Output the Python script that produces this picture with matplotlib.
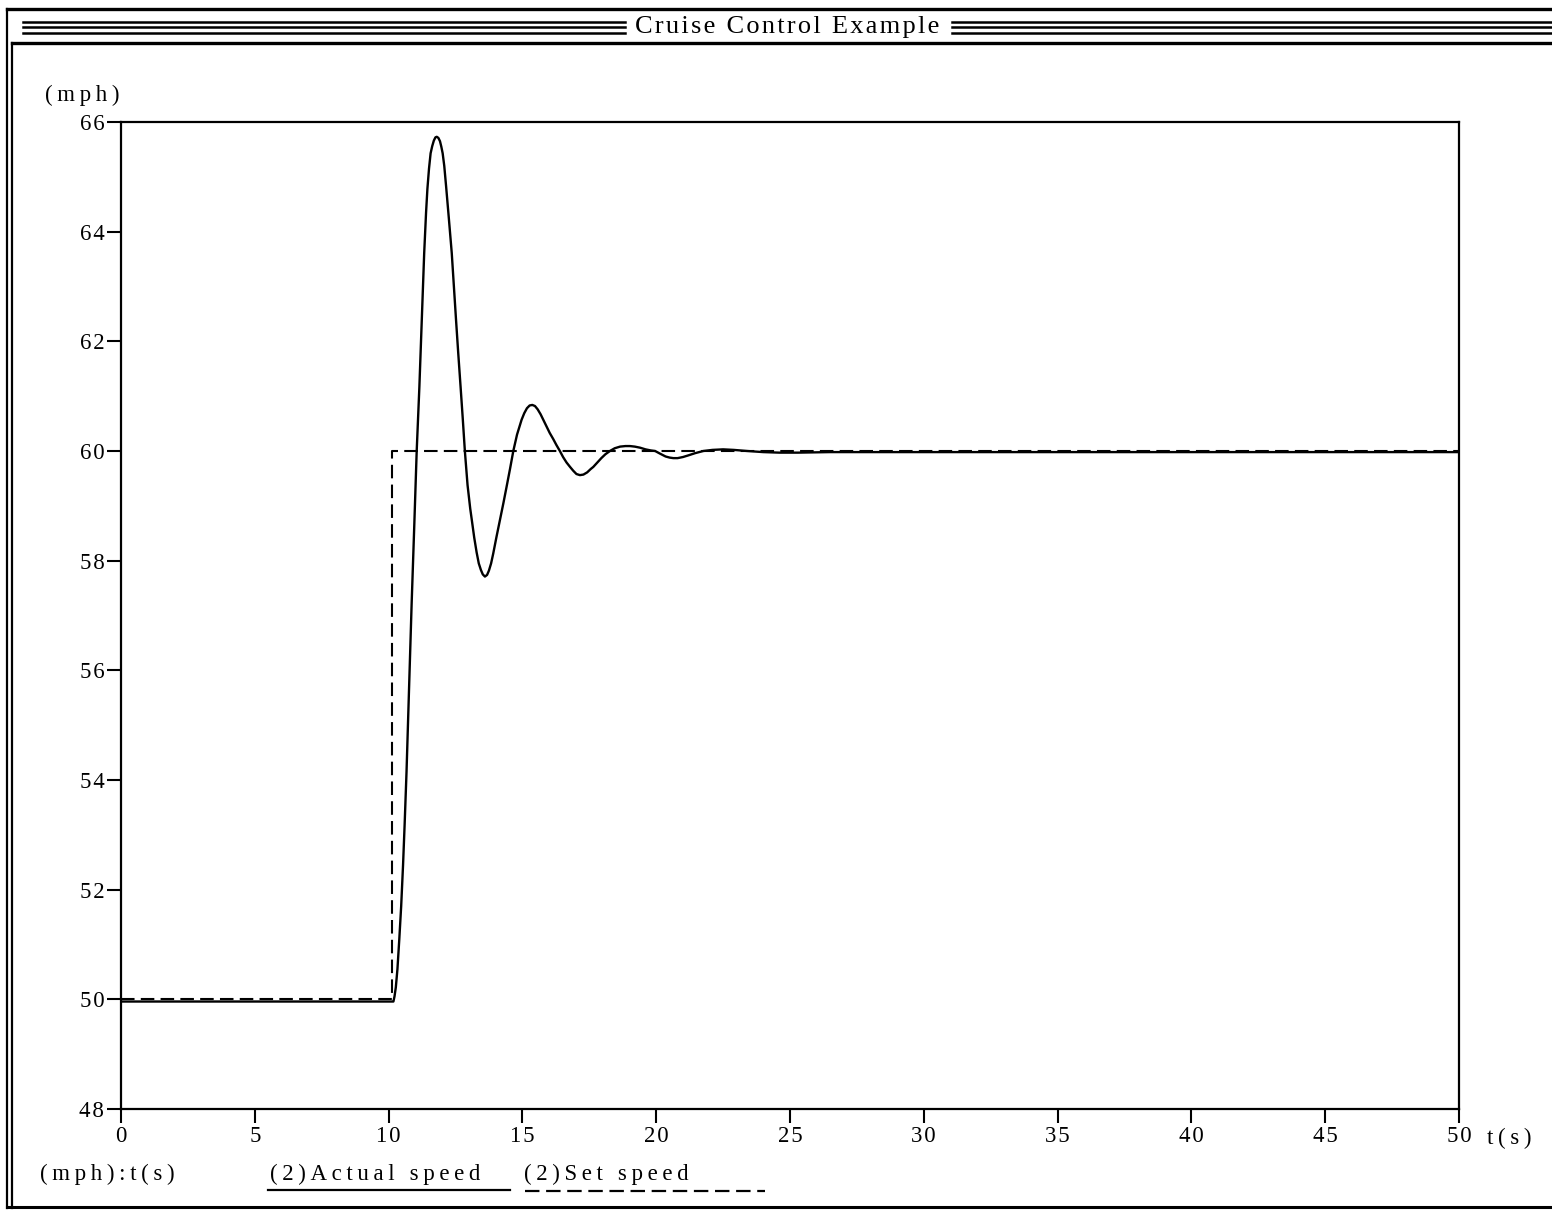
import matplotlib
matplotlib.use('Agg')
import matplotlib.pyplot as plt
from matplotlib.lines import Line2D

# values (t in s, speed in mph)
t_actual = [0.0, 10.18, 10.22, 10.27, 10.33, 10.4, 10.47, 10.54, 10.6, 10.67,
            10.76, 10.86, 10.96, 11.05, 11.15, 11.24, 11.33, 11.4, 11.45, 11.51,
            11.57, 11.63, 11.69, 11.75, 11.8, 11.86, 11.92, 11.97, 12.02, 12.08,
            12.15, 12.25, 12.36, 12.44, 12.52, 12.6, 12.69, 12.77, 12.85, 12.95,
            13.05, 13.11, 13.2, 13.29, 13.37, 13.45, 13.52, 13.6, 13.68, 13.75,
            13.83, 13.91, 14.03, 14.16, 14.29, 14.41, 14.54, 14.66, 14.8, 14.97,
            15.07, 15.17, 15.27, 15.37, 15.47, 15.57, 15.68, 15.78, 15.9, 16.02,
            16.15, 16.27, 16.4, 16.52, 16.65, 16.78, 16.9, 17.02, 17.15, 17.28,
            17.42, 17.55, 17.65, 17.8, 17.95, 18.1, 18.27, 18.45, 18.65, 18.85,
            19.02, 19.2, 19.4, 19.6, 19.8, 19.96, 20.15, 20.35, 20.5, 20.64,
            20.8, 21.0, 21.2, 21.45, 21.76, 22.1, 22.5, 22.9, 23.4, 24.0,
            24.6, 25.3, 26.5, 50.0]
v_actual = [49.96, 49.96, 50.05, 50.22, 50.55, 51.1, 51.7, 52.45, 53.2, 54.15,
            55.6, 57.2, 58.65, 60.0, 61.17, 62.39, 63.61, 64.35, 64.78, 65.15,
            65.43, 65.56, 65.66, 65.72, 65.73, 65.71, 65.65, 65.55, 65.43, 65.2,
            64.82, 64.25, 63.61, 63.0, 62.39, 61.8, 61.17, 60.6, 60.0, 59.38,
            58.95, 58.74, 58.42, 58.15, 57.95, 57.83, 57.75, 57.71, 57.74, 57.82,
            57.95, 58.13, 58.43, 58.74, 59.05, 59.35, 59.68, 60.0, 60.3, 60.57,
            60.69, 60.78, 60.83, 60.84, 60.82, 60.76, 60.67, 60.57, 60.45, 60.33,
            60.22, 60.11, 60.0, 59.89, 59.79, 59.71, 59.64, 59.58, 59.56, 59.57,
            59.61, 59.67, 59.71, 59.79, 59.87, 59.94, 60.0, 60.05, 60.08, 60.09,
            60.09, 60.08, 60.06, 60.03, 60.01, 60.0, 59.95, 59.9, 59.88, 59.87,
            59.87, 59.89, 59.92, 59.96, 60.0, 60.02, 60.03, 60.02, 60.0, 59.98,
            59.97, 59.97, 59.98, 59.98]
t_set = [0, 10.13, 10.13, 50]
v_set = [50, 50, 60, 60]

x_ticks = [0, 5, 10, 15, 20, 25, 30, 35, 40, 45, 50]
y_ticks = [48, 50, 52, 54, 56, 58, 60, 62, 64, 66]

title = 'Cruise Control Example'
y_unit = '(mph)'
x_unit = 't(s)'
legend_head = '(mph):t(s)'
legend_names = ['(2)Actual speed', '(2)Set speed']

plt.rcParams['font.family'] = ['Liberation Serif', 'DejaVu Serif']

W, H = 1552, 1210
fig = plt.figure(figsize=(W / 100, H / 100), dpi=100)


def fx(px):
    return px / W


def fy(py):
    return 1 - py / H


def sp(s, gap='\u2009'):
    # the scanned font is letter spaced
    return gap.join(s)


def fline(xs, ys, lw=2.0, **kw):
    fig.add_artist(Line2D([fx(x) for x in xs], [fy(y) for y in ys],
                          color='k', lw=lw, transform=fig.transFigure, **kw))


ax = fig.add_axes([fx(121), fy(1109), fx(1459) - fx(121), fy(122) - fy(1109)])
ax.plot(t_actual, v_actual, color='k', lw=1.7)
ax.plot(t_set, v_set, color='k', lw=1.5, dashes=(6.5, 3))

ax.set_xlim(0, 50)
ax.set_ylim(48, 66)
ax.set_xticks(x_ticks)
ax.set_xticklabels([sp(str(v), '\u200a') for v in x_ticks])
ax.set_yticks(y_ticks)
ax.set_yticklabels([sp(str(v), '\u200a') for v in y_ticks])
ax.tick_params(axis='both', direction='out', length=10, width=1.5,
               labelsize=16.5, pad=2)
for s in ax.spines.values():
    s.set_linewidth(1.6)

# window frame
fline([7, 1552], [9, 9], lw=2.4)
fline([7, 7], [9, 1208], lw=1.6)
fline([12, 1552], [43, 43], lw=2.4)
fline([12, 12], [43, 1208], lw=1.6)
fline([7, 1552], [1207, 1207], lw=2.2)
for yy in [22, 27, 33]:
    fline([23, 625], [yy, yy], lw=1.8)
    fline([952, 1552], [yy, yy], lw=1.8)

fig.text(fx(787), fy(27), sp(title, '\u200a'), ha='center', va='center',
         fontsize=19)
fig.text(fx(45), fy(95), sp(y_unit), ha='left', va='center', fontsize=16.5)
fig.text(fx(1487), fy(1138), sp(x_unit), ha='left', va='center', fontsize=16.5)

# legend row
fig.text(fx(40), fy(1174), sp(legend_head), ha='left', va='center',
         fontsize=16.5)
fig.text(fx(270), fy(1174), sp(legend_names[0]), ha='left', va='center',
         fontsize=16.5)
fig.text(fx(524), fy(1174), sp(legend_names[1]), ha='left', va='center',
         fontsize=16.5)
fline([268, 510], [1190, 1190], lw=1.6)
fline([525, 765], [1191, 1191], lw=1.6, dashes=(6.5, 3))

fig.savefig('out.png', dpi=100)
